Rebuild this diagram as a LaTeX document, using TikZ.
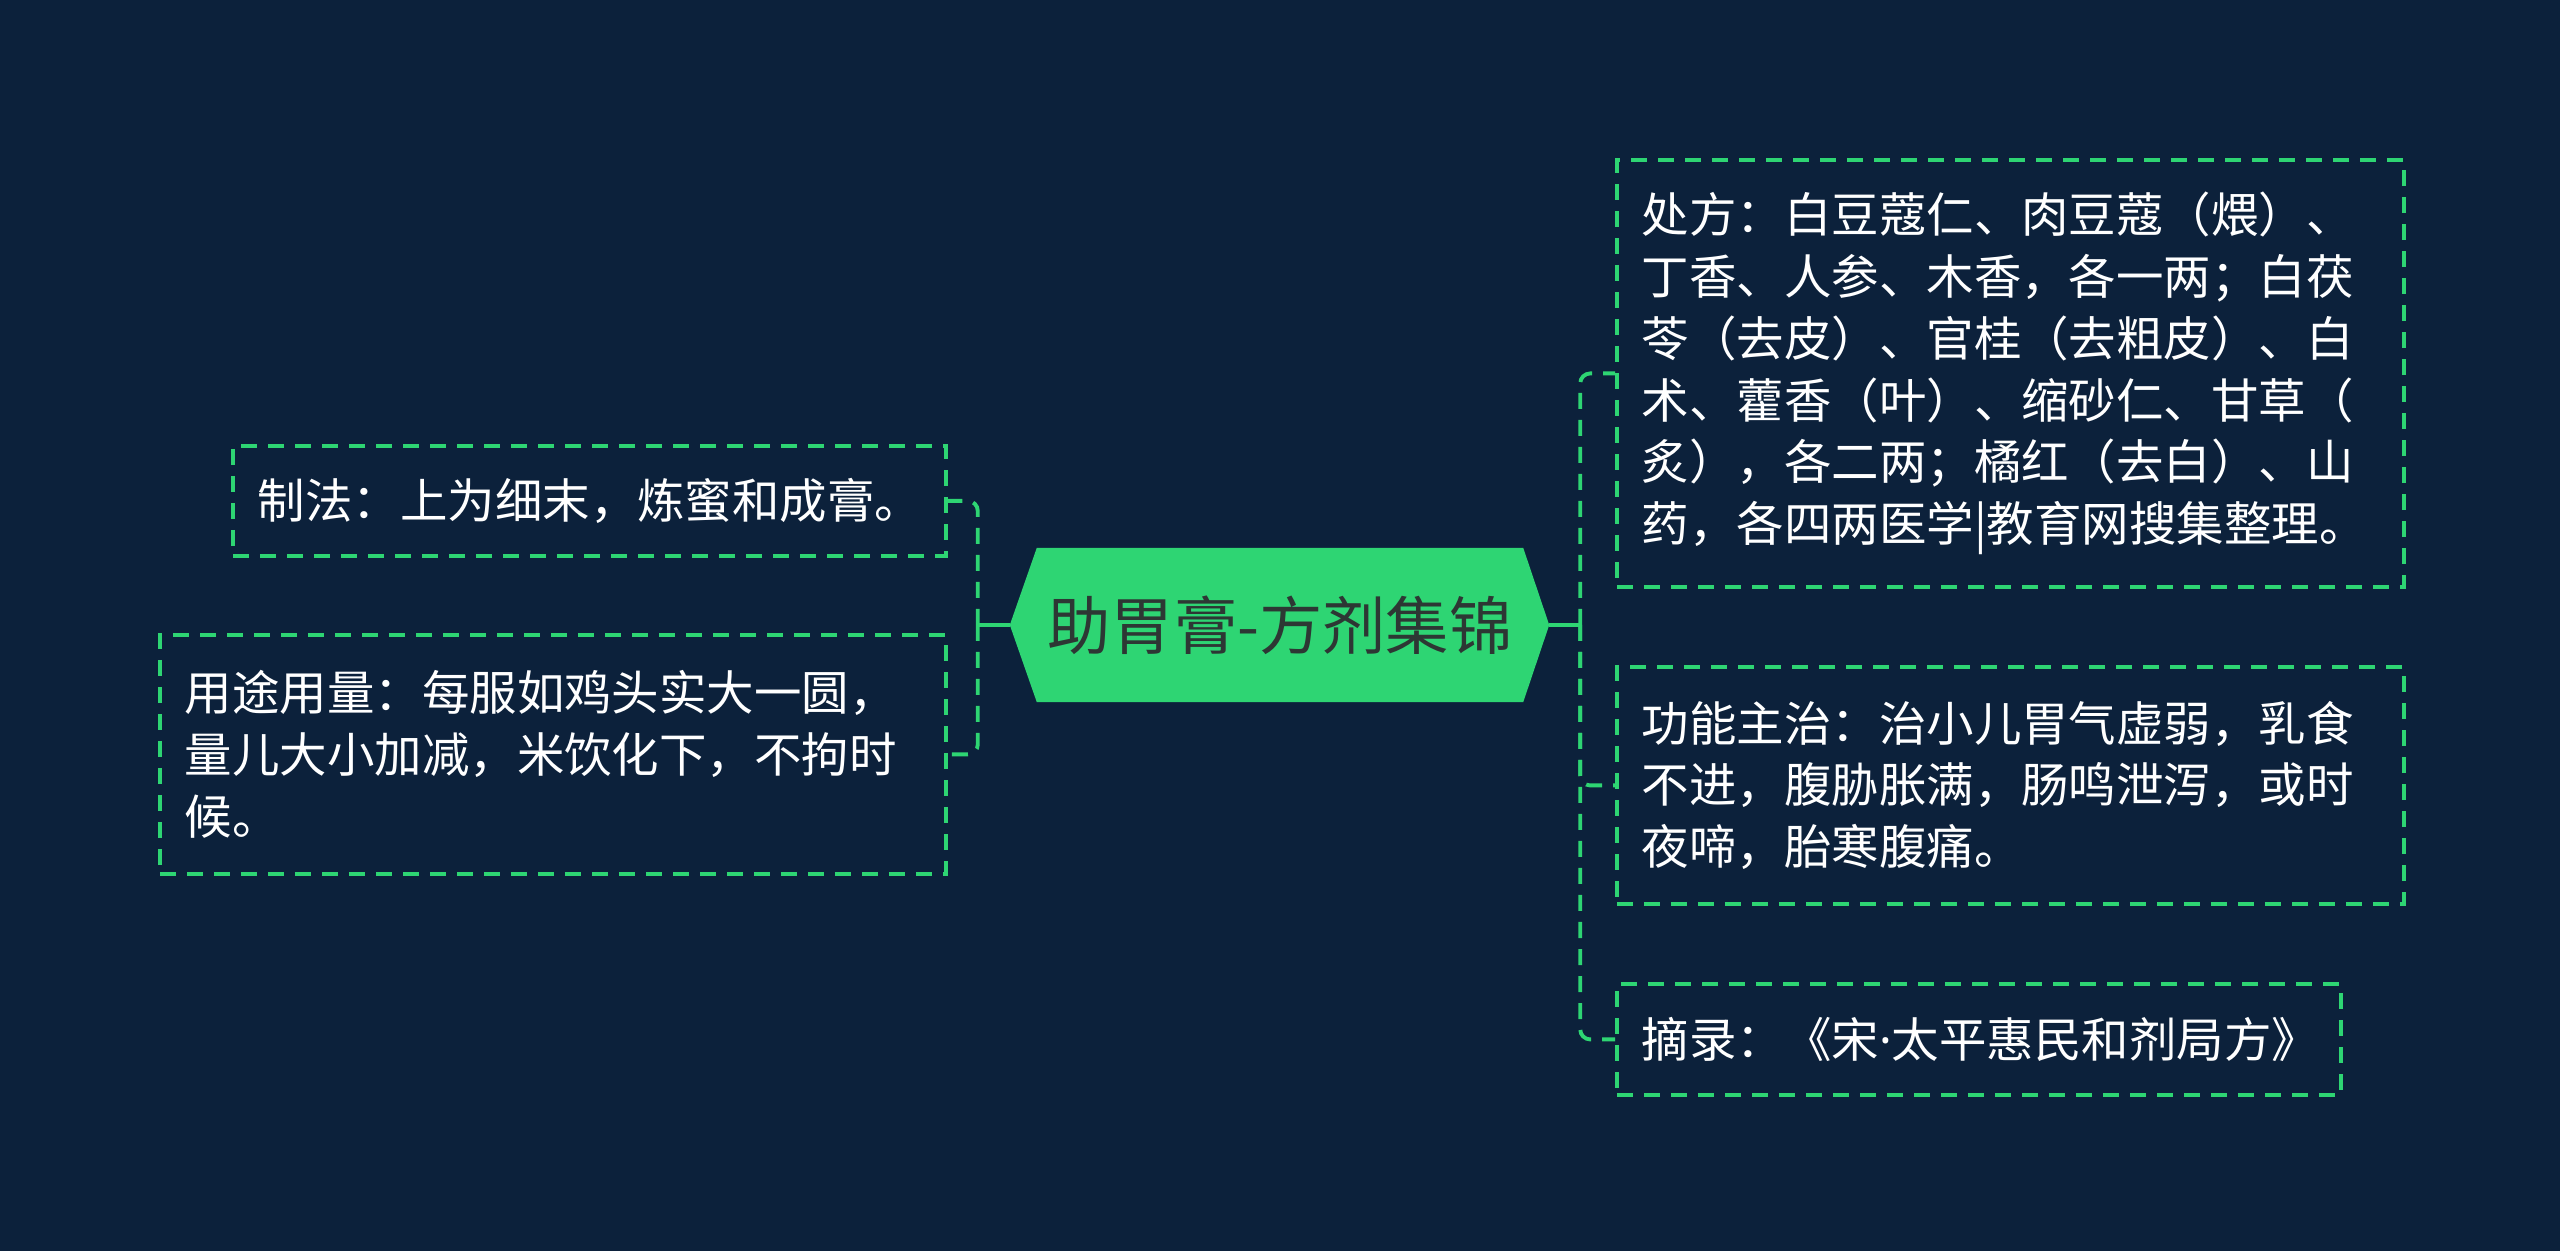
\documentclass[tikz,border=0pt]{standalone}
\usepackage{fontspec}
\setmainfont{Noto Sans CJK SC}
\newfontfamily\latinfont{Noto Sans}
\definecolor{bgnavy}{RGB}{12,33,59}
\definecolor{mapgreen}{RGB}{46,213,115}
\definecolor{hubink}{RGB}{45,55,52}

\begin{document}
\begin{tikzpicture}[
  leaf/.style={draw=mapgreen, dashed, dash pattern=on 0.16cm off 0.11cm, line width=1.1pt, rectangle, text=white, align=left, inner xsep=0.25cm, inner ysep=0.1cm, font=\fontsize{13.5pt}{17.6pt}\selectfont},
  link/.style={draw=mapgreen, line width=1.1pt, dash pattern=on 0.16cm off 0.11cm, rounded corners=0.1cm},
  stub/.style={draw=mapgreen, line width=1.1pt}
]

% fond
\fill[bgnavy] (0,0) rectangle (25.6,-12.51);
\useasboundingbox (0,0) rectangle (25.6,-12.51);

% Noeud central
\node (hub) [minimum width=4.85cm, minimum height=1.53cm] at (12.80,-6.25) {};
\fill[mapgreen] (hub.north west) -- (hub.north east) -- ([xshift=0.26cm]hub.east) coordinate (hubR) -- (hub.south east) -- (hub.south west) -- ([xshift=-0.27cm]hub.west) coordinate (hubL) -- cycle;
\node (hubtext) [text=hubink, font=\fontsize{18pt}{22pt}\selectfont] at (hub) {助胃膏-方剂集锦};

% Caixas da esquerda
\node (zhifa) [leaf, minimum width=7.13cm, text width=6.63cm, minimum height=1.10cm, anchor=north west] at (2.31,-4.44) {制法：上为细末，炼蜜和成膏。};
\node (yongtu) [leaf, minimum width=7.86cm, text width=7.36cm, minimum height=2.39cm, anchor=north west] at (1.58,-6.33) {用途用量：每服如鸡头实大一圆，\\量儿大小加减，米饮化下，不拘时\\候。};

% Caixas da direita
\node (chufang) [leaf, minimum width=7.87cm, text width=7.37cm, minimum height=4.27cm, anchor=north west] at (16.15,-1.58) {处方：白豆蔻仁、肉豆蔻（煨）、\\丁香、人参、木香，各一两；白茯\\苓（去皮）、官桂（去粗皮）、白\\术、藿香（叶）、缩砂仁、甘草（\\炙），各二两；橘红（去白）、山\\药，各四两医学|教育网搜集整理。};
\node (gongneng) [leaf, minimum width=7.87cm, text width=7.37cm, minimum height=2.37cm, anchor=north west] at (16.15,-6.65) {功能主治：治小儿胃气虚弱，乳食\\不进，腹胁胀满，肠鸣泄泻，或时\\夜啼，胎寒腹痛。};
\node (zhailu) [leaf, minimum width=7.24cm, text width=6.74cm, minimum height=1.11cm, anchor=north west] at (16.15,-9.82) {摘录：《宋{\latinfont ·}太平惠民和剂局方》};

% Ligacoes
\path[stub] (hubL) -- ++(-0.32,0) coordinate (lj);
\path[stub] (hubR) -- ++(0.31,0) coordinate (rj);
\path[link] (lj) |- (zhifa.east);
\path[link] (lj) |- (yongtu.east);
\path[link] (rj) |- (chufang.west);
\path[link] (rj) |- (gongneng.west);
\path[link] (rj) |- (zhailu.west);

\end{tikzpicture}
\end{document}
